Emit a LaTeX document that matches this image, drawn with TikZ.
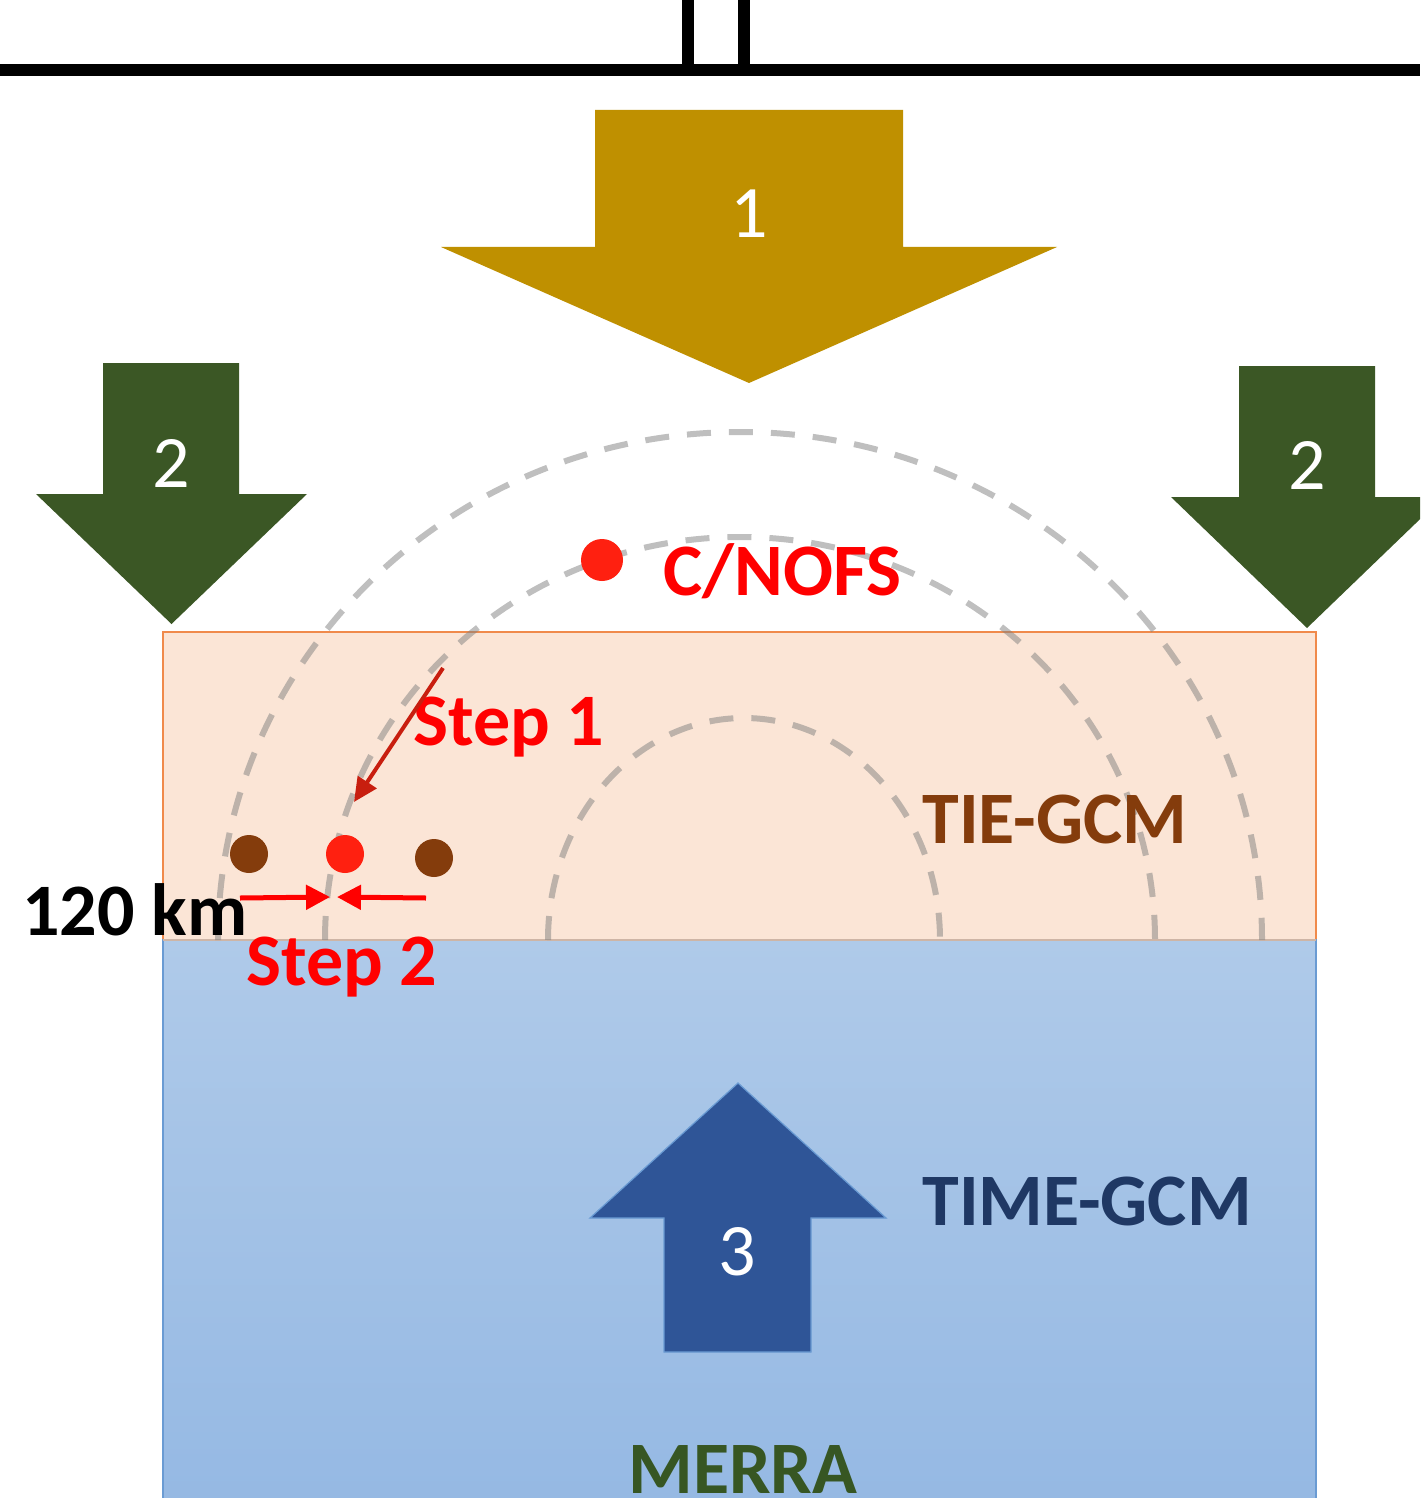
\documentclass[tikz,border=0pt]{standalone}
\usepackage{fontspec}
\setmainfont{Carlito}
\usetikzlibrary{arrows.meta}
\definecolor{gold}{HTML}{BF9000}
\definecolor{dgreen}{HTML}{3B5725}
\definecolor{barrow}{HTML}{2F5597}
\definecolor{peach}{HTML}{FBE5D6}
\definecolor{porange}{HTML}{F08A4B}
\definecolor{btop}{HTML}{AFCAE9}
\definecolor{bbot}{HTML}{94B8E3}
\definecolor{bedge}{HTML}{6A9BD3}
\definecolor{tiecol}{HTML}{843C0C}
\definecolor{timecol}{HTML}{1F3864}
\definecolor{merracol}{HTML}{375623}
\definecolor{stepred}{HTML}{FF0000}
\definecolor{darkred}{HTML}{C81E0F}
\definecolor{dotred}{HTML}{FF2010}
\definecolor{arcgray}{HTML}{808080}
\tikzset{
  lbl/.style={inner sep=0pt, font=\fontsize{37}{40}\selectfont\bfseries},
  numlbl/.style={inner sep=0pt, text=white, font=\fontsize{37}{40}\selectfont},
  arcline/.style={draw=arcgray, draw opacity=0.5, line width=3pt, dash pattern=on 12pt off 9pt},
  dotbrown/.style={circle, fill=tiecol, minimum size=19pt, inner sep=0pt},
  dotr/.style={circle, fill=dotred, minimum size=19pt, inner sep=0pt},
  redarrow/.style={draw=stepred, line width=2.5pt, -{Triangle[length=12pt,width=12pt]}},
}
\begin{document}
\begin{tikzpicture}[x=0.5pt,y=-0.5pt]
\path[use as bounding box, clip] (0,0) rectangle (1420,1498);
\fill[white] (0,0) rectangle (1420,1498);
% top bar
\fill[black] (0,64) rectangle (1420,76);
\fill[black] (682,0) rectangle (694,64);
\fill[black] (738,0) rectangle (750,64);
% layers
\path[fill=peach, draw=porange, line width=0.6pt] (163,632) rectangle (1316,940);
\path[top color=btop, bottom color=bbot, draw=bedge, line width=0.6pt] (163,940) rectangle (1316,1530);
\draw[draw=porange!40!gray!60, line width=0.6pt] (163,940) -- (1316,940);
% arcs
\path[arcline] (218,940) arc[start angle=180, end angle=360, x radius=522, y radius=508];
\path[arcline] (325,940) arc[start angle=180, end angle=360, x radius=415, y radius=403];
\path[arcline] (548,940) arc[start angle=180, end angle=360, x radius=196, y radius=222];
% arrow 1
\fill[gold] (595,110) -- (903,110) -- (903,247) -- (1057,247) -- (749,383) -- (441,247) -- (595,247) -- cycle;
\node[numlbl, anchor=base] (n1) at (749,238) {1};
% left arrow 2
\fill[dgreen] (103,363) -- (239,363) -- (239,494) -- (307,494) -- (171.5,624) -- (36,494) -- (103,494) -- cycle;
\node[numlbl, anchor=base] (n2a) at (171,487) {2};
% right arrow 2
\fill[dgreen] (1239,366) -- (1375,366) -- (1375,497) -- (1443,497) -- (1307,628) -- (1171,497) -- (1239,497) -- cycle;
\node[numlbl, anchor=base] (n2b) at (1307,489) {2};
% arrow 3
\path[fill=barrow, draw=bedge, line width=0.6pt] (664,1352) -- (811,1352) -- (811,1218) -- (886,1218) -- (738,1083) -- (590,1218) -- (664,1218) -- cycle;
\node[numlbl, anchor=base] (n3) at (737,1275) {3};
% C/NOFS
\node[dotr, minimum size=21pt] (cnofsdot) at (602,560) {};
\node[lbl, text=stepred, anchor=base west] (cnofs) at (663,595) {C/NOFS};
% labels
\node[lbl, text=tiecol, anchor=base west] (tie) at (922,843) {TIE-GCM};
\node[lbl, text=timecol, anchor=base west] (time) at (922,1225) {TIME-GCM};
\node[lbl, text=merracol, anchor=base west] (merra) at (628,1493) {MERRA};
\node[lbl, text=black, anchor=base west] (km) at (22,935) {120 km};
\node[lbl, text=stepred, anchor=base west] (step1) at (413,745) {Step 1};
\node[lbl, text=stepred, anchor=base west] (step2) at (246,985) {Step 2};
% dots
\node[dotbrown] (d1) at (249,854) {};
\node[dotr] (d2) at (345,854) {};
\node[dotbrown] (d3) at (434,858) {};
% step 1 arrow
\coordinate (s1a) at (443,668);
\coordinate (s1b) at (354,802);
\draw[draw=darkred, line width=2pt, -{Triangle[length=12pt,width=11pt]}] (s1a) -- (s1b);
% step 2 arrows
\coordinate (s2l) at (240,898);
\coordinate (s2lt) at (330,897);
\coordinate (s2r) at (426,898);
\coordinate (s2rt) at (337,897);
\draw[redarrow] (s2l) -- (s2lt);
\draw[redarrow] (s2r) -- (s2rt);
\end{tikzpicture}
\end{document}
